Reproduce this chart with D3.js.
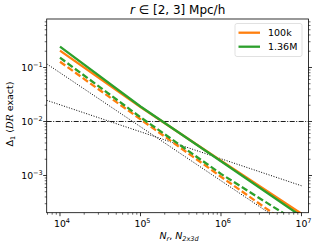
<!DOCTYPE html>
<html>
<head>
<meta charset="utf-8">
<script src="https://cdn.jsdelivr.net/npm/d3@7"></script>
<style>
  body { margin: 0; background: #fff; }
  svg { display: block; font-family: "DejaVu Sans", sans-serif; }
</style>
</head>
<body>
<svg width="316" height="247"></svg>
<script>
// sample sizes N (x) where the curves were measured
const nValues = [1e4, 1e5, 1e6, 1e7];
// Delta_1 values
const orangeSolid = [0.205, 0.0185, 0.00187, 0.000195];
const greenSolid = [0.243, 0.019, 0.00183, 0.000175];
const orangeDashed = [0.128, 0.011, 0.00095, 0.000085];
const greenDashed = [0.152, 0.012, 0.00107, 0.000123];
// reference slopes (dotted), c / N and c / sqrt(N)
const refN = [6840, 1e7];
const refSteep = [800 / 6840, 800 / 1e7];
const refShallow = [2.04 / Math.sqrt(6840), 2.04 / Math.sqrt(1e7)];
const hLine = 1e-2;

const legendLabels = ["100k", "1.36M"];
const xTicks = [1e4, 1e5, 1e6, 1e7];
const yTicks = [1e-3, 1e-2, 1e-1];

const orange = "#ff7f0e", green = "#2ca02c";

const svg = d3.select("svg");
const pL = 46.7, pR = 308.5, pT = 19, pB = 212.7;

const x = d3.scaleLog().domain([Math.pow(10, 3.835), Math.pow(10, 7.087)]).range([pL, pR]);
const y = d3.scaleLog().domain([Math.pow(10, -3.689), Math.pow(10, -0.102)]).range([pB, pT]);

svg.append("defs").append("clipPath").attr("id", "clip")
  .append("rect").attr("x", pL).attr("y", pT).attr("width", pR - pL).attr("height", pB - pT);

const plot = svg.append("g").attr("clip-path", "url(#clip)");

const line = d3.line().x(d => x(d[0])).y(d => y(d[1]));

// dotted references
plot.append("path").datum(d3.zip(refN, refSteep)).attr("d", line)
  .attr("fill", "none").attr("stroke", "#000").attr("stroke-width", 1).attr("stroke-dasharray", "1,1.6");
plot.append("path").datum(d3.zip(refN, refShallow)).attr("d", line)
  .attr("fill", "none").attr("stroke", "#000").attr("stroke-width", 1).attr("stroke-dasharray", "1,1.6");

// dash-dot horizontal
plot.append("line").attr("x1", pL).attr("x2", pR).attr("y1", y(hLine)).attr("y2", y(hLine))
  .attr("stroke", "#000").attr("stroke-width", 0.9).attr("stroke-dasharray", "5,1.5,1,1.5");

const series = [
  { vals: orangeDashed, color: orange, dash: "6.5,2.8" },
  { vals: greenDashed, color: green, dash: "6.5,2.8" },
  { vals: orangeSolid, color: orange, dash: null },
  { vals: greenSolid, color: green, dash: null }
];
series.forEach(s => {
  plot.append("path").datum(d3.zip(nValues, s.vals)).attr("d", line)
    .attr("fill", "none").attr("stroke", s.color).attr("stroke-width", 2.3)
    .attr("stroke-dasharray", s.dash);
});

// spines
svg.append("rect").attr("x", pL).attr("y", pT).attr("width", pR - pL).attr("height", pB - pT)
  .attr("fill", "none").attr("stroke", "#000").attr("stroke-width", 0.8);

// ticks
function minorTicks(lo, hi) {
  const out = [];
  for (let e = lo; e <= hi; e++) for (let m = 2; m <= 9; m++) out.push(m * Math.pow(10, e));
  return out;
}
const ax = svg.append("g").attr("stroke", "#000").attr("stroke-width", 0.6);
minorTicks(3, 7).filter(v => v >= x.domain()[0] && v <= x.domain()[1]).forEach(v => {
  ax.append("line").attr("x1", x(v)).attr("x2", x(v)).attr("y1", pB).attr("y2", pB + 2);
});
xTicks.forEach(v => {
  ax.append("line").attr("x1", x(v)).attr("x2", x(v)).attr("y1", pB).attr("y2", pB + 3.5).attr("stroke-width", 0.8);
});
minorTicks(-4, -1).filter(v => v >= y.domain()[0] && v <= y.domain()[1]).forEach(v => {
  ax.append("line").attr("x1", pL - 2).attr("x2", pL).attr("y1", y(v)).attr("y2", y(v));
  ax.append("line").attr("x1", pR).attr("x2", pR + 2).attr("y1", y(v)).attr("y2", y(v));
});
yTicks.forEach(v => {
  ax.append("line").attr("x1", pL - 3.5).attr("x2", pL).attr("y1", y(v)).attr("y2", y(v)).attr("stroke-width", 0.8);
  ax.append("line").attr("x1", pR).attr("x2", pR + 3.5).attr("y1", y(v)).attr("y2", y(v)).attr("stroke-width", 0.8);
});

function powLabel(g, v) {
  const e = Math.round(Math.log10(v));
  g.append("tspan").text("10");
  g.append("tspan").attr("dy", -4).attr("font-size", "6.5px").text(e < 0 ? "\u2212" + (-e) : e);
}
xTicks.forEach(v => {
  const t = svg.append("text").attr("x", x(v) + 2).attr("y", pB + 14.5).attr("text-anchor", "middle")
    .attr("font-size", "9.3px").attr("fill", "#000");
  powLabel(t, v);
});
yTicks.forEach(v => {
  const t = svg.append("text").attr("x", pL - 4).attr("y", y(v) + 3.2).attr("text-anchor", "end")
    .attr("font-size", "9.3px").attr("fill", "#000");
  powLabel(t, v);
});

// title
const title = svg.append("text").attr("x", (pL + pR) / 2).attr("y", 14).attr("text-anchor", "middle")
  .attr("font-size", "12px");
title.append("tspan").attr("font-style", "italic").text("r");
title.append("tspan").text(" \u2208 [2, 3] Mpc/h");

// x label
const xl = svg.append("text").attr("x", 179).attr("y", 239).attr("text-anchor", "middle")
  .attr("font-size", "9.5px").attr("font-style", "italic");
xl.append("tspan").text("N");
xl.append("tspan").attr("font-size", "6.5px").attr("dy", 2).text("r");
xl.append("tspan").attr("dy", -2).attr("font-style", "normal").text(", ");
xl.append("tspan").text("N");
xl.append("tspan").attr("font-size", "6.5px").attr("dy", 2).text("2x3d");

// y label
const yl = svg.append("text").attr("transform", "translate(13,114) rotate(-90)")
  .attr("text-anchor", "middle").attr("font-size", "9.5px");
yl.append("tspan").text("\u0394");
yl.append("tspan").attr("font-size", "6.5px").attr("dy", 2).text("1");
yl.append("tspan").attr("dy", -2).text("  (");
yl.append("tspan").attr("font-style", "italic").attr("font-family", "DejaVu Serif, serif").text("DR");
yl.append("tspan").text(" exact)");

// legend
const lg = svg.append("g");
lg.append("rect").attr("x", 235).attr("y", 23.5).attr("width", 67).attr("height", 33).attr("rx", 2)
  .attr("fill", "#fff").attr("fill-opacity", 0.8).attr("stroke", "#d9d9d9").attr("stroke-width", 0.8);
[orange, green].forEach((c, i) => {
  const yy = 32.7 + i * 14;
  lg.append("line").attr("x1", 238.5).attr("x2", 260).attr("y1", yy).attr("y2", yy)
    .attr("stroke", c).attr("stroke-width", 2.3);
  lg.append("text").attr("x", 268).attr("y", yy + 3.3).attr("font-size", "9.5px").text(legendLabels[i]);
});
</script>
</body>
</html>
